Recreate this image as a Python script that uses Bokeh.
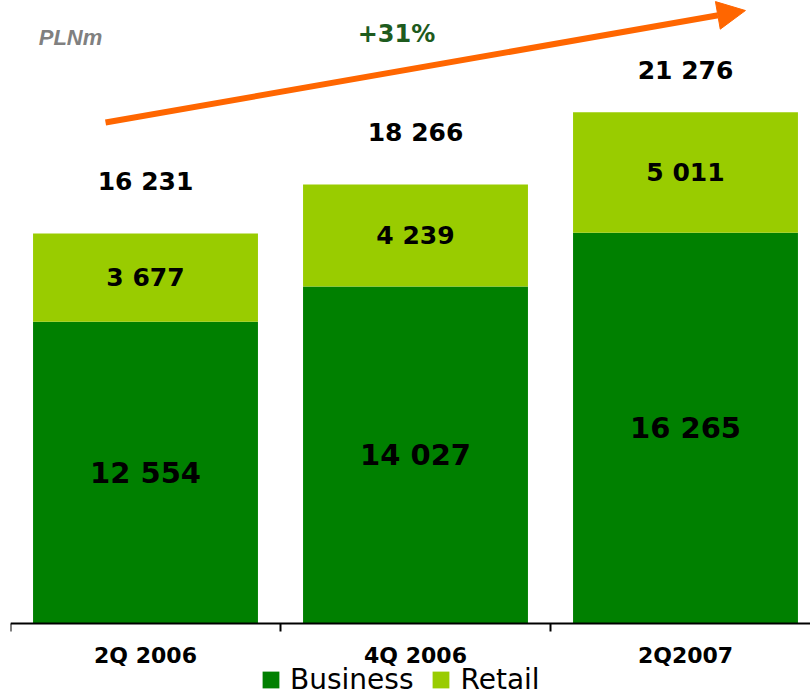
from bokeh.plotting import figure
from bokeh.models import (ColumnDataSource, Range1d, FixedTicker, Arrow, NormalHead, Label)
from bokeh.core.properties import value
from bokeh.embed import file_html
from bokeh.resources import INLINE

categories = ["2Q 2006", "4Q 2006", "2Q2007"]
business = [12554, 14027, 16265]
retail = [3677, 4239, 5011]
totals = [b + r for b, r in zip(business, retail)]
growth_label = "+31%"
unit_label = "PLNm"

def fmt(v):
    return f"{v:,}".replace(",", " ")

x = list(range(len(categories)))
src = ColumnDataSource(dict(
    x=x,
    business=business,
    retail=retail,
    total=totals,
    bus_mid=[b / 2 for b in business],
    ret_mid=[b + r / 2 for b, r in zip(business, retail)],
    bus_txt=[fmt(v) for v in business],
    ret_txt=[fmt(v) for v in retail],
    tot_txt=[fmt(v) for v in totals],
    tot_off=[-52, -52, -42],
))

FONT = value("DejaVu Sans")
PX_PER_UNIT = 390 / 16231

p = figure(width=810, height=696, output_backend="svg", toolbar_location=None,
           x_range=Range1d(-0.5, -0.5 + 800 / 270),
           y_range=Range1d(-73 / PX_PER_UNIT, 623 / PX_PER_UNIT),
           y_axis_location=None, min_border_left=10, min_border_right=0,
           min_border_top=0, min_border_bottom=0)
p.outline_line_color = None
p.xgrid.visible = False
p.ygrid.visible = False

p.vbar_stack(["business", "retail"], x="x", width=0.833, source=src,
             color=["#008000", "#99CC00"], line_color=None,
             legend_label=["Business", "Retail"])

p.text(x="x", y="bus_mid", text="bus_txt", source=src, text_font=FONT,
       text_font_style="bold", text_font_size="29px", text_align="center",
       text_baseline="middle", text_color="black")
p.text(x="x", y="ret_mid", text="ret_txt", source=src, text_font=FONT,
       text_font_style="bold", text_font_size="25px", text_align="center",
       text_baseline="middle", text_color="black")
p.text(x="x", y="total", text="tot_txt", y_offset="tot_off", source=src, text_font=FONT,
       text_font_style="bold", text_font_size="25px", text_align="center",
       text_baseline="middle", text_color="black")

ax = p.xaxis[0]
ax.fixed_location = 0
ax.ticker = FixedTicker(ticks=x, minor_ticks=[i - 0.5 for i in x] + [len(x) - 0.5])
ax.major_label_overrides = {i: c for i, c in zip(x, categories)}
ax.major_tick_line_color = None
ax.minor_tick_line_color = "black"
ax.minor_tick_line_width = 2
ax.minor_tick_out = 8
ax.minor_tick_in = 0
ax.axis_line_color = "black"
ax.axis_line_width = 2
ax.major_label_text_font = "DejaVu Sans"
ax.major_label_text_font_style = "bold"
ax.major_label_text_font_size = "22px"
ax.major_label_text_color = "black"
ax.major_label_standoff = 11

arrow = Arrow(end=NormalHead(size=28, fill_color="#FF6600", line_color="#FF6600"),
              x_start=-0.148, y_start=20850, x_end=2.222, y_end=25510,
              line_color="#FF6600", line_width=6)
p.add_layout(arrow)

p.add_layout(Label(x=60, y=659, x_units="screen", y_units="screen", text=unit_label,
                   text_font="Liberation Sans", text_font_style="bold italic",
                   text_font_size="22px", text_color="#808080",
                   text_align="center", text_baseline="middle"))
p.add_layout(Label(x=386, y=663, x_units="screen", y_units="screen", text=growth_label,
                   text_font="DejaVu Sans", text_font_style="bold",
                   text_font_size="24px", text_color="#1E5B1E",
                   text_align="center", text_baseline="middle"))

lg = p.legend[0]
lg.orientation = "horizontal"
lg.location = (250, 0)
lg.glyph_width = 21
lg.glyph_height = 21
lg.label_text_font = "DejaVu Sans"
lg.label_text_font_size = "28px"
lg.label_text_color = "black"
lg.label_standoff = 9
lg.spacing = 17
lg.padding = 0
lg.margin = 0
lg.border_line_color = None
lg.background_fill_alpha = 0

open("out.html", "w").write(file_html(p, INLINE))
